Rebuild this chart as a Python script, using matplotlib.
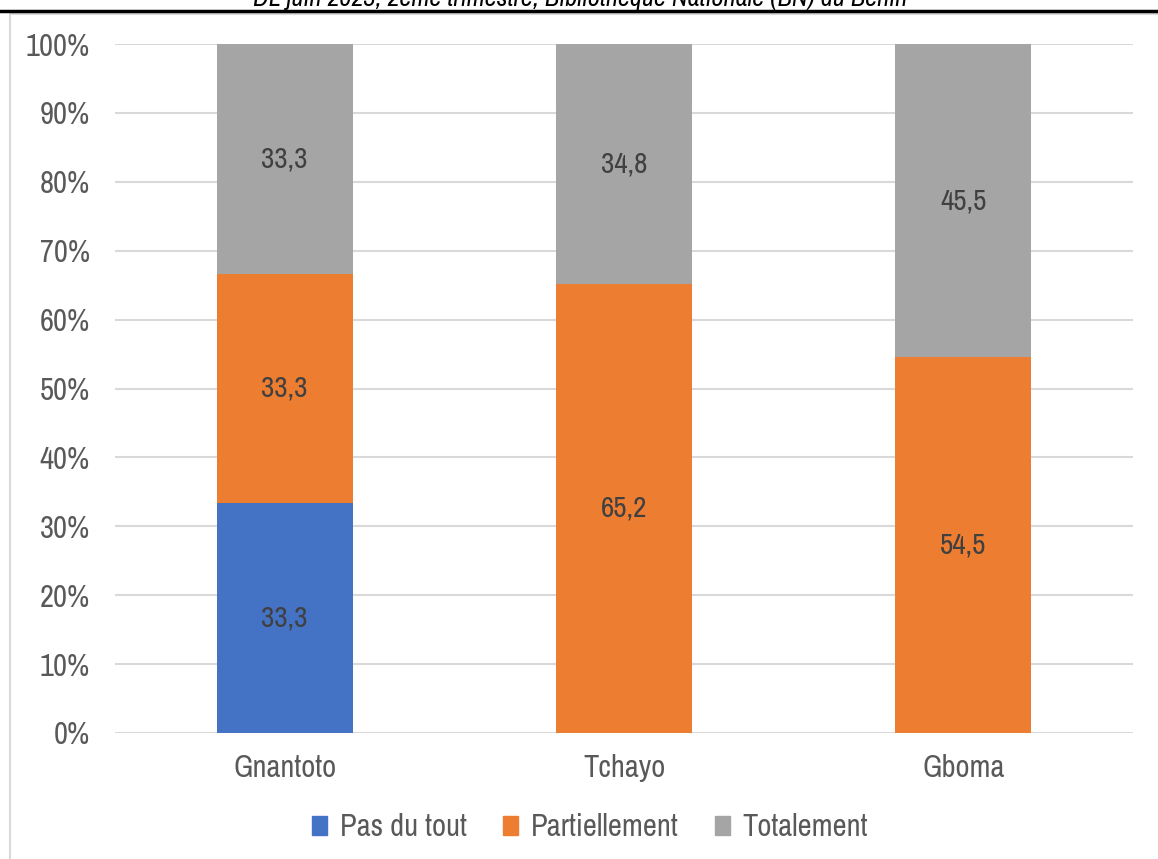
import matplotlib.pyplot as plt
import matplotlib.patches as mpatches
import matplotlib.lines as mlines
import numpy as np

# niveau de satisfaction par localité (en %)
localites = ['Gnantoto', 'Tchayo', 'Gboma']
pas_du_tout = [33.3, 0.0, 0.0]
partiellement = [33.3, 65.2, 54.5]
totalement = [33.3, 34.8, 45.5]
series = ['Pas du tout', 'Partiellement', 'Totalement']
couleurs = ['#4472c4', '#ed7d31', '#a5a5a5']

# police étroite, la première disponible est utilisée
polices = ['Arial Narrow', 'Liberation Sans Narrow', 'Archivo Narrow',
           'PT Sans Narrow', 'Roboto Condensed', 'Pragati Narrow', 'DejaVu Sans']
plt.rcParams['font.family'] = polices

fig = plt.figure(figsize=(11.58, 8.59), dpi=100)
W, H = 1158, 859
ax = fig.add_axes([115 / W, 1 - 733 / H, (1133 - 115) / W, (733 - 44) / H])

x = np.arange(len(localites))
valeurs = [pas_du_tout, partiellement, totalement]
# normalisation à 100 % comme dans un histogramme empilé 100 %
total = np.sum(valeurs, axis=0)
bas = np.zeros(len(localites))
for nom, vals, c in zip(series, valeurs, couleurs):
    pct = np.array(vals) / total * 100
    ax.bar(x, pct, 0.4, bottom=bas, color=c, label=nom, zorder=3)
    for xi, b, p, v in zip(x, bas, pct, vals):
        if v > 0:
            ax.text(xi, b + p / 2, f'{v:.1f}'.replace('.', ','), ha='center',
                    va='center', fontsize=21, color='#404040', zorder=4)
    bas += pct

ax.set_xlim(-0.5, 2.5)
ax.set_ylim(0, 100)
ax.set_yticks(np.arange(0, 101, 10))
ax.set_yticklabels([f'{v}%' for v in range(0, 101, 10)])
ax.set_xticks(x)
ax.set_xticklabels(localites)
ax.tick_params(axis='both', length=0, labelsize=22, colors='#595959')
ax.tick_params(axis='y', pad=18)
ax.tick_params(axis='x', pad=15)
ax.grid(axis='y', color='#d9d9d9', lw=1.5, zorder=0)
for s in ax.spines.values():
    s.set_visible(False)

handles = [mpatches.Patch(color=c) for c in couleurs]
fig.legend(handles, series, loc='center', bbox_to_anchor=(590 / W, 1 - 827 / H),
           ncol=3, frameon=False, fontsize=22, handlelength=0.5, handleheight=0.6,
           handletextpad=0.4, columnspacing=1.2, labelcolor='#595959')

# cadre du graphique et trait de séparation en haut
fig.add_artist(mpatches.Rectangle((10 / W, -0.01), 1.2, 1 - 14 / H + 0.01,
                                  transform=fig.transFigure, fill=False,
                                  edgecolor='#d9d9d9', lw=1.5))
fig.add_artist(mlines.Line2D([0, 1], [1 - 11 / H, 1 - 11 / H], color='black',
                             lw=2.5, transform=fig.transFigure))
fig.text(580 / W, 1 + 2 / H,
         'DL juin 2023, 2ème trimestre, Bibliothèque Nationale (BN) du Bénin',
         ha='center', va='center', fontsize=19, fontweight='bold',
         fontstyle='italic')

fig.savefig('out.png', dpi=100)
